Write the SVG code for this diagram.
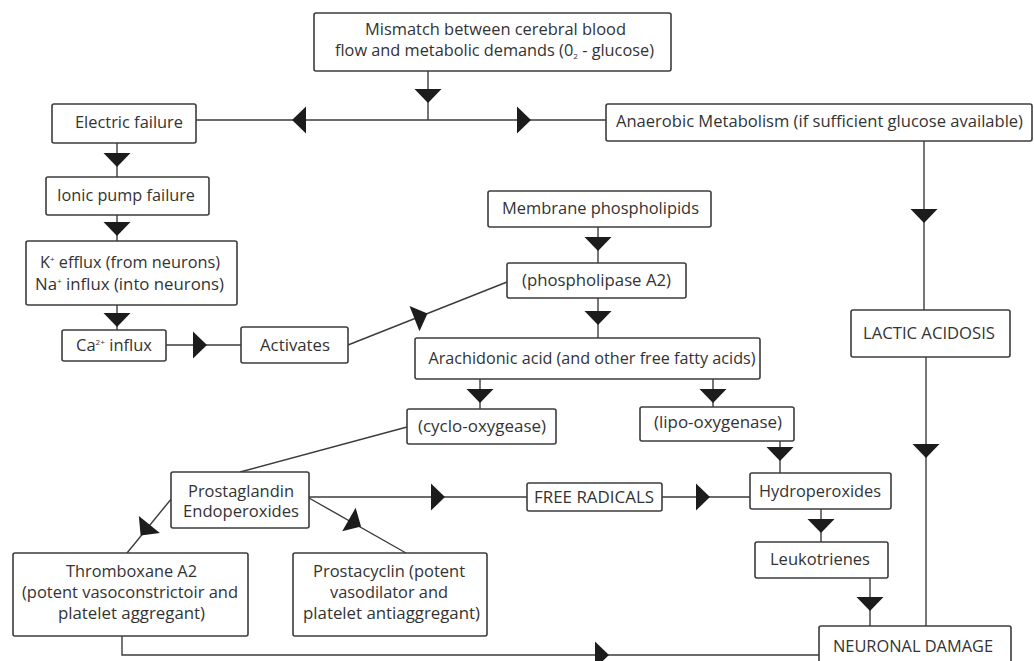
<svg xmlns="http://www.w3.org/2000/svg" xmlns:xlink="http://www.w3.org/1999/xlink" width="1034" height="661" viewBox="0 0 1034 661">
<style>
.box{fill:#fff;stroke:#3c3c3c;stroke-width:1.6}
.t{font-family:"Open Sans","Noto Sans",sans-serif;font-size:16px;fill:#333;text-anchor:middle}
.ln{fill:none;stroke:#3c3c3c;stroke-width:1.4}
.ah{fill:#1c1c1c}
.sm{font-size:8px}
</style>
<defs>
<path id="ar" d="M-7,-13.5 L7,0 L-7,13.5 Z"/>
</defs>
<rect width="1034" height="661" fill="#fff"/>

<g id="connectors">
<path class="ln" d="M428,71 V120 M196,120 H606"/>
<use xlink:href="#ar" class="ah" transform="translate(428,96) rotate(90)"/>
<use xlink:href="#ar" class="ah" transform="translate(299,120) rotate(180)"/>
<use xlink:href="#ar" class="ah" transform="translate(524,120)"/>
<path class="ln" d="M924,141 V310"/>
<use xlink:href="#ar" class="ah" transform="translate(924,216) rotate(90)"/>
<path class="ln" d="M926,357 V626"/>
<use xlink:href="#ar" class="ah" transform="translate(926,451) rotate(90)"/>
<path class="ln" d="M117,143 V177"/>
<use xlink:href="#ar" class="ah" transform="translate(117,160) rotate(90)"/>
<path class="ln" d="M117,215 V241"/>
<use xlink:href="#ar" class="ah" transform="translate(117,229) rotate(90)"/>
<path class="ln" d="M117,305 V330"/>
<use xlink:href="#ar" class="ah" transform="translate(117,320) rotate(90)"/>
<path class="ln" d="M166,345 H241"/>
<use xlink:href="#ar" class="ah" transform="translate(200,345)"/>
<path class="ln" d="M348,345 L507,282"/>
<use xlink:href="#ar" class="ah" transform="translate(421,316) rotate(-21.7)"/>
<path class="ln" d="M598,227 V263"/>
<use xlink:href="#ar" class="ah" transform="translate(598,244) rotate(90)"/>
<path class="ln" d="M598,298 V338"/>
<use xlink:href="#ar" class="ah" transform="translate(598,318) rotate(90)"/>
<path class="ln" d="M480,379 V409"/>
<use xlink:href="#ar" class="ah" transform="translate(480,396) rotate(90)"/>
<path class="ln" d="M713,379 V407"/>
<use xlink:href="#ar" class="ah" transform="translate(713,396) rotate(90)"/>
<path class="ln" d="M407,427 L240,472"/>
<path class="ln" d="M780,441 V473"/>
<use xlink:href="#ar" class="ah" transform="translate(780,454) rotate(90)"/>
<path class="ln" d="M821,509 V542"/>
<use xlink:href="#ar" class="ah" transform="translate(821,526) rotate(90)"/>
<path class="ln" d="M870,578 V626"/>
<use xlink:href="#ar" class="ah" transform="translate(870,604) rotate(90)"/>
<path class="ln" d="M309,497 H527 M662,497 H750"/>
<use xlink:href="#ar" class="ah" transform="translate(438,497)"/>
<use xlink:href="#ar" class="ah" transform="translate(703,497)"/>
<path class="ln" d="M172,498 L127,553"/>
<use xlink:href="#ar" class="ah" transform="translate(145,530) rotate(128.7)"/>
<path class="ln" d="M309,498 L406,553"/>
<use xlink:href="#ar" class="ah" transform="translate(355,523) rotate(29.8)"/>
<path class="ln" d="M122,636 V655 H819"/>
<use xlink:href="#ar" class="ah" transform="translate(602,655)"/>
</g>

<g id="mismatch"><rect class="box" x="314" y="13" width="357" height="58" rx="2"/>
<text class="t" x="495.5" y="35" textLength="261" lengthAdjust="spacingAndGlyphs">Mismatch between cerebral blood</text>
<text class="t" x="494.5" y="56" textLength="319" lengthAdjust="spacingAndGlyphs">flow and metabolic demands (0<tspan class="sm" dy="3">2</tspan><tspan dy="-3"> - glucose)</tspan></text></g>

<g id="electric"><rect class="box" x="52" y="104" width="144" height="39" rx="2"/>
<text class="t" x="129" y="128" textLength="108" lengthAdjust="spacingAndGlyphs">Electric failure</text></g>

<g id="anaerobic"><rect class="box" x="606" y="104" width="426" height="37" rx="2"/>
<text class="t" x="819.5" y="127" textLength="407" lengthAdjust="spacingAndGlyphs">Anaerobic Metabolism (if sufficient glucose available)</text></g>

<g id="ionic"><rect class="box" x="46" y="177" width="163" height="38" rx="2"/>
<text class="t" x="126" y="201" textLength="138" lengthAdjust="spacingAndGlyphs">Ionic pump failure</text></g>

<g id="kna"><rect class="box" x="26" y="241" width="211" height="64" rx="2"/>
<text class="t" x="130" y="268" textLength="180" lengthAdjust="spacingAndGlyphs">K<tspan class="sm" dy="-6">+</tspan><tspan dy="6"> efflux (from neurons)</tspan></text>
<text class="t" x="129.5" y="290" textLength="189" lengthAdjust="spacingAndGlyphs">Na<tspan class="sm" dy="-6">+</tspan><tspan dy="6">  influx (into neurons)</tspan></text></g>

<g id="ca"><rect class="box" x="62" y="330" width="104" height="31" rx="2"/>
<text class="t" x="114" y="351" textLength="76" lengthAdjust="spacingAndGlyphs">Ca<tspan class="sm" dy="-6">2+</tspan><tspan dy="6"> influx</tspan></text></g>

<g id="activates"><rect class="box" x="241" y="327" width="107" height="36" rx="2"/>
<text class="t" x="295" y="351" textLength="70" lengthAdjust="spacingAndGlyphs">Activates</text></g>

<g id="membrane"><rect class="box" x="488" y="191" width="223" height="36" rx="2"/>
<text class="t" x="600.5" y="214" textLength="197" lengthAdjust="spacingAndGlyphs">Membrane phospholipids</text></g>

<g id="phospholipase"><rect class="box" x="507" y="263" width="179" height="35" rx="2"/>
<text class="t" x="596.5" y="286" textLength="149" lengthAdjust="spacingAndGlyphs">(phospholipase A2)</text></g>

<g id="arachidonic"><rect class="box" x="415" y="338" width="345" height="41" rx="2"/>
<text class="t" x="592" y="364" textLength="327" lengthAdjust="spacingAndGlyphs">Arachidonic acid (and other free fatty acids)</text></g>

<g id="cyclo"><rect class="box" x="407" y="409" width="149" height="35" rx="2"/>
<text class="t" x="482" y="432" textLength="128" lengthAdjust="spacingAndGlyphs">(cyclo-oxygease)</text></g>

<g id="lipo"><rect class="box" x="640" y="407" width="154" height="34" rx="2"/>
<text class="t" x="718" y="428" textLength="128" lengthAdjust="spacingAndGlyphs">(lipo-oxygenase)</text></g>

<g id="lactic"><rect class="box" x="851" y="310" width="159" height="47" rx="2"/>
<text class="t" x="929" y="339" textLength="132" lengthAdjust="spacingAndGlyphs">LACTIC ACIDOSIS</text></g>

<g id="prostaglandin"><rect class="box" x="171" y="472" width="138" height="56" rx="2"/>
<text class="t" x="241" y="497" textLength="106" lengthAdjust="spacingAndGlyphs">Prostaglandin</text>
<text class="t" x="241" y="517" textLength="116" lengthAdjust="spacingAndGlyphs">Endoperoxides</text></g>

<g id="freeradicals"><rect class="box" x="527" y="483" width="135" height="28" rx="2"/>
<text class="t" x="594" y="503" textLength="120" lengthAdjust="spacingAndGlyphs">FREE RADICALS</text></g>

<g id="hydroperoxides"><rect class="box" x="750" y="473" width="141" height="36" rx="2"/>
<text class="t" x="820" y="497" textLength="122" lengthAdjust="spacingAndGlyphs">Hydroperoxides</text></g>

<g id="leukotrienes"><rect class="box" x="755" y="542" width="133" height="36" rx="2"/>
<text class="t" x="820" y="565" textLength="100" lengthAdjust="spacingAndGlyphs">Leukotrienes</text></g>

<g id="thromboxane"><rect class="box" x="13" y="553" width="235" height="83" rx="2"/>
<text class="t" x="131.5" y="577" textLength="131" lengthAdjust="spacingAndGlyphs">Thromboxane A2</text>
<text class="t" x="130" y="598" textLength="216" lengthAdjust="spacingAndGlyphs">(potent vasoconstrictoir and</text>
<text class="t" x="131.5" y="619" textLength="147" lengthAdjust="spacingAndGlyphs">platelet aggregant)</text></g>

<g id="prostacyclin"><rect class="box" x="293" y="553" width="194" height="83" rx="2"/>
<text class="t" x="389" y="577" textLength="152" lengthAdjust="spacingAndGlyphs">Prostacyclin (potent</text>
<text class="t" x="389" y="598" textLength="118" lengthAdjust="spacingAndGlyphs">vasodilator and</text>
<text class="t" x="391.5" y="619" textLength="177" lengthAdjust="spacingAndGlyphs">platelet antiaggregant)</text></g>

<g id="neuronal"><rect class="box" x="819" y="626" width="192" height="50" rx="2"/>
<text class="t" x="913" y="652" textLength="160" lengthAdjust="spacingAndGlyphs">NEURONAL DAMAGE</text></g>
</svg>
